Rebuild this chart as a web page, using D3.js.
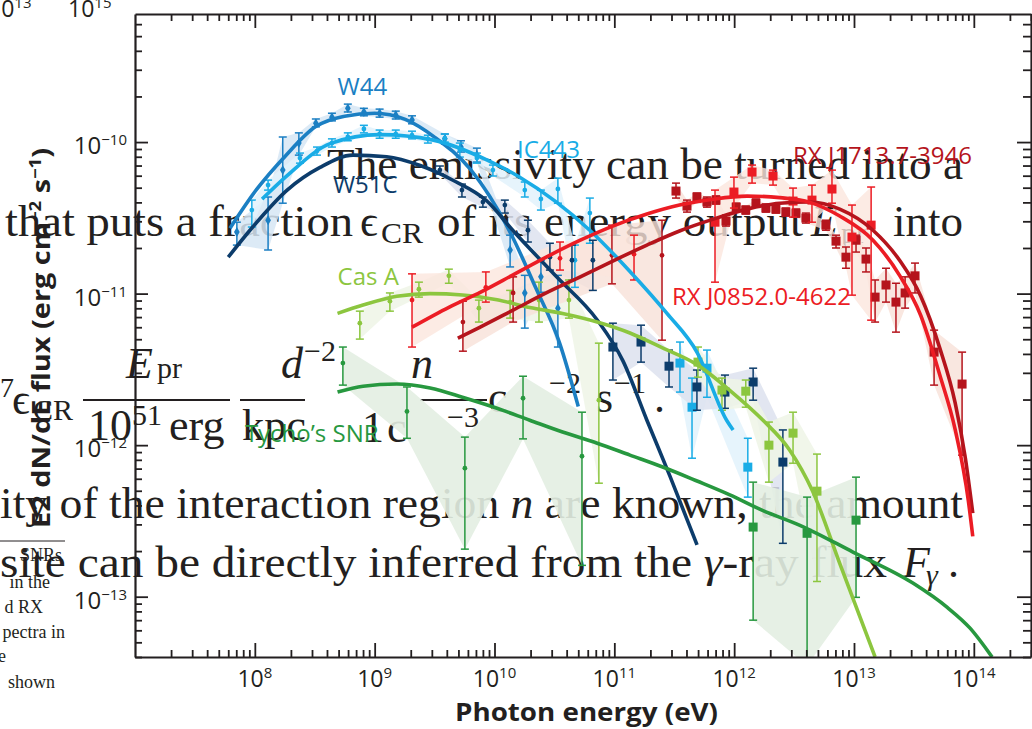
<!DOCTYPE html>
<html><head><meta charset="utf-8">
<script src="https://cdn.jsdelivr.net/npm/d3@7"></script>
<style>body{margin:0;background:#fff}svg{display:block}</style>
</head><body>
<svg id="c" width="1032" height="729"></svg>
<script>
// ---------------- DATA (energy in eV, flux in erg cm^-2 s^-1) ----------------
const energyTickExps = [8, 9, 10, 11, 12, 13, 14];
const fluxTickExps = [-13, -12, -11, -10];

// model curves [E, flux]
const w44Curve = [[6.2e7,2.7e-11],[1.0e8,4.7e-11],[1.8e8,8.1e-11],[3.2e8,1.26e-10],[5.6e8,1.48e-10],[1.0e9,1.55e-10],[1.8e9,1.41e-10],[3.2e9,1.07e-10],[6.3e9,6.6e-11],[1.4e10,2.4e-11],[2.2e10,1.1e-11],[3.5e10,4.7e-12],[5.0e10,1.8e-12]];
const ic443Curve = [[1.15e8,4.2e-11],[1.86e8,6.0e-11],[4.3e8,9.8e-11],[1.1e9,1.12e-10],[3.1e9,1.03e-10],[8.7e9,7.6e-11],[1.6e10,5.9e-11],[6.3e10,2.6e-11],[1.35e11,1.4e-11],[2.75e11,7.4e-12],[4.9e11,4.1e-12],[8.7e11,1.45e-12],[9.8e11,1.26e-12]];
const w51cCurve = [[6.0e7,1.74e-11],[9.6e7,2.75e-11],[1.85e8,4.8e-11],[3.5e8,6.8e-11],[6.6e8,8.2e-11],[1.26e9,8.0e-11],[2.4e9,7.0e-11],[4.5e9,5.6e-11],[8.6e9,4.1e-11],[1.43e10,2.6e-11],[3.3e10,1.29e-11],[7.2e10,6.7e-12],[1.18e11,3.6e-12],[1.87e11,1.46e-12],[2.9e11,6.3e-13],[4.9e11,2.2e-13]];
const casACurve = [[4.9e8,7.4e-12],[8.0e8,8.4e-12],[1.53e9,9.6e-12],[2.9e9,1.0e-11],[5.4e9,9.8e-12],[1.05e10,9.1e-12],[1.97e10,8.1e-12],[3.7e10,7.4e-12],[7.2e10,6.5e-12],[1.35e11,5.5e-12],[2.5e11,4.4e-12],[4.9e11,3.4e-12],[9.2e11,2.3e-12],[1.74e12,1.46e-12],[2.9e12,9.3e-13],[4.5e12,5.0e-13],[7.6e12,1.66e-13],[1.5e13,4.0e-14]];
const tychoCurve = [[4.9e8,2.24e-12],[8.0e8,2.45e-12],[1.53e9,2.53e-12],[2.9e9,2.38e-12],[5.4e9,2.07e-12],[1.05e10,1.75e-12],[1.97e10,1.46e-12],[3.7e10,1.22e-12],[7.2e10,1.03e-12],[1.35e11,8.6e-13],[2.5e11,7.2e-13],[4.9e11,5.8e-13],[9.2e11,4.7e-13],[1.74e12,3.7e-13],[3.54e12,2.96e-13],[9.8e12,1.97e-13],[3.1e13,1.23e-13],[6.0e13,8.5e-14],[9.3e13,6.2e-14],[1.42e14,4.0e-14]];
const rxj0852Curve = [[2.05e9,6.0e-12],[4.2e9,8.15e-12],[7.6e9,1.02e-11],[1.43e10,1.33e-11],[2.7e10,1.74e-11],[5.2e10,2.25e-11],[9.7e10,2.79e-11],[1.87e11,3.35e-11],[3.5e11,3.84e-11],[6.7e11,4.2e-11],[1.28e12,4.4e-11],[2.4e12,4.3e-11],[4.3e12,4.0e-11],[7.6e12,3.25e-11],[1.44e13,2.25e-11],[2.4e13,1.32e-11],[3.6e13,7.2e-12],[5.2e13,2.9e-12],[7.0e13,1.26e-12],[9.0e13,4.3e-13],[9.8e13,2.5e-13]];
const rxj1713Curve = [[4.94e9,5.08e-12],[7.6e9,6.01e-12],[1.43e10,7.78e-12],[2.7e10,1.01e-11],[5.2e10,1.29e-11],[9.7e10,1.64e-11],[1.87e11,2.09e-11],[3.5e11,2.59e-11],[6.7e11,3.1e-11],[1.28e12,3.61e-11],[2.4e12,3.95e-11],[4.3e12,4.02e-11],[7.6e12,3.61e-11],[1.44e13,2.62e-11],[2.4e13,1.66e-11],[3.6e13,9.64e-12],[5.2e13,4.37e-12],[7.0e13,1.89e-12],[8.5e13,8.2e-13],[9.8e13,3.56e-13]];

// measured points [E, flux, fluxLow, fluxHigh]
const w44Points = [[7.08e7,2.55e-11,2.09e-11,2.96e-11],[1.29e8,3.05e-11,1.94e-11,4.34e-11],[1.71e8,6.53e-11,3.95e-11,1.08e-10],[2.33e8,9.85e-11,8.2e-11,1.15e-10],[3.23e8,1.33e-10,1.26e-10,1.42e-10],[4.40e8,1.46e-10,1.38e-10,1.55e-10],[5.97e8,1.67e-10,1.58e-10,1.78e-10],[8.13e8,1.58e-10,1.49e-10,1.67e-10],[1.10e9,1.55e-10,1.46e-10,1.65e-10],[1.50e9,1.51e-10,1.42e-10,1.60e-10],[2.05e9,1.40e-10,1.32e-10,1.49e-10],[3.85e9,1.05e-10,9.7e-11,1.13e-10],[5.25e9,9.27e-11,8.59e-11,1.02e-10],[7.13e9,8.2e-11,7.38e-11,9.12e-11],[1.35e10,1.94e-11,1.50e-11,2.43e-11],[1.79e10,1.01e-11,5.92e-12,1.32e-11],[2.44e10,1.29e-11,1.02e-11,1.66e-11],[3.38e10,8.02e-12,4.44e-12,1.32e-11]];
const ic443Points = [[9.44e7,3.56e-11,2.75e-11,4.14e-11],[1.29e8,5.2e-11,4.82e-11,5.61e-11],[2.38e8,7.84e-11,7.26e-11,8.46e-11],[3.30e8,8.72e-11,8.2e-11,9.27e-11],[4.40e8,9.85e-11,9.27e-11,1.05e-10],[5.97e8,1.08e-10,1.02e-10,1.15e-10],[8.13e8,1.22e-10,1.15e-10,1.29e-10],[1.10e9,1.13e-10,1.06e-10,1.20e-10],[1.50e9,1.13e-10,1.06e-10,1.20e-10],[2.05e9,1.11e-10,1.05e-10,1.18e-10],[2.78e9,1.05e-10,9.85e-11,1.11e-10],[3.85e9,1.06e-10,1.0e-10,1.13e-10],[5.14e9,8.86e-11,7.96e-11,9.85e-11],[7.13e9,7.84e-11,7.26e-11,8.46e-11],[9.7e9,6.53e-11,5.97e-11,7.05e-11],[1.79e10,4.82e-11,4.34e-11,5.45e-11],[2.44e10,4.21e-11,3.56e-11,4.82e-11],[3.38e10,4.9e-11,3.95e-11,5.78e-11],[4.69e10,1.66e-11,1.10e-11,2.09e-11],[6.25e10,3.4e-11,2.15e-11,4.27e-11],[3.53e11,3.48e-12,2.24e-12,4.79e-12],[4.45e11,1.78e-12,8.2e-13,2.77e-12],[5.93e11,3.22e-12,2.07e-12,4.24e-12],[1.30e12,7.16e-13,4.54e-13,1.11e-12]];
const w51cPoints = [[3.50e9,6.53e-11,6.15e-11,6.95e-11],[5.35e9,4.82e-11,4.34e-11,5.28e-11],[8.0e9,4.02e-11,3.72e-11,4.34e-11],[1.22e10,3.84e-11,3.4e-11,4.14e-11],[1.90e10,2.62e-11,2.19e-11,3.05e-11],[2.90e10,1.74e-11,1.43e-11,2.15e-11],[4.43e10,1.66e-11,1.23e-11,2.09e-11],[6.62e10,1.66e-11,1.05e-11,2.25e-11],[9.73e10,4.44e-12,2.69e-12,6.38e-12],[1.67e11,4.79e-12,3.53e-12,6.19e-12],[2.86e11,3.32e-12,2.42e-12,4.24e-12],[4.89e11,2.42e-12,1.70e-12,3.13e-12],[8.38e11,2.24e-12,1.75e-12,2.90e-12],[1.44e12,2.61e-12,1.98e-12,3.22e-12],[2.55e12,7.73e-13,2.25e-13,1.26e-12]];
const casAPoints = [[7.52e8,6.38e-12,5.01e-12,7.66e-12],[1.34e9,8.91e-12,7.66e-12,1.01e-11],[2.34e9,1.07e-11,9.48e-12,1.19e-11],[4.16e9,1.31e-11,1.17e-11,1.45e-11],[7.41e9,8.02e-12,6.49e-12,9.06e-12],[1.35e10,8.79e-12,6.89e-12,1.05e-11],[2.35e10,9.06e-12,6.49e-12,1.19e-11],[4.18e10,9.06e-12,6.89e-12,1.23e-11],[7.43e10,1.98e-12,5.61e-13,4.71e-12],[4.99e11,3.53e-12,2.81e-12,4.44e-12],[7.91e11,2.31e-12,1.70e-12,2.77e-12],[1.25e12,2.27e-12,1.78e-12,2.69e-12],[1.95e12,1.0e-12,5.70e-13,1.42e-12],[3.10e12,1.20e-12,7.6e-13,1.65e-12],[4.91e12,4.97e-13,1.26e-13,8.73e-13]];
const tychoPoints = [[5.43e8,3.48e-12,2.49e-12,4.44e-12],[1.86e9,1.67e-12,1.11e-12,2.42e-12],[5.66e9,7.05e-13,2.06e-13,1.13e-12],[1.73e10,2.04e-12,1.10e-12,2.85e-12],[5.37e10,8.45e-13,1.61e-13,1.65e-12],[1.44e12,2.88e-13,7.0e-14,5.70e-13],[4.06e12,2.62e-13,3.5e-14,4.54e-13],[1.04e13,3.2e-13,9.9e-14,6.15e-13]];
const rxj0852Points = [[2.05e9,9.06e-12,4.44e-12,1.35e-11],[8.47e9,1.10e-11,8.79e-12,1.39e-11],[3.52e10,1.71e-11,1.43e-11,2.19e-11],[1.46e11,1.82e-11,1.23e-11,2.43e-11],[6.92e11,2.96e-11,1.19e-11,4.82e-11],[9.96e11,4.68e-11,3.67e-11,5.87e-11],[1.41e12,6.34e-11,5.36e-11,7.05e-11],[2.11e12,5.97e-11,5.2e-11,6.53e-11],[3.10e12,4.08e-11,3.2e-11,4.97e-11],[4.46e12,4.14e-11,2.96e-11,5.2e-11],[6.55e12,4.9e-11,3.95e-11,6.53e-11],[9.62e12,2.36e-11,9.77e-12,3.84e-11],[1.39e13,2.83e-11,6.68e-12,5.05e-11]];
const rxj1713Points = [[5.45e9,6.49e-12,4.17e-12,8.91e-12],[1.43e10,1.01e-11,6.49e-12,1.29e-11],[9.55e10,1.79e-11,1.16e-11,2.83e-11],[2.50e11,1.79e-11,4.93e-12,3.05e-11],[3.27e11,4.75e-11,4.27e-11,5.36e-11],[4.04e11,3.78e-11,3.45e-11,4.14e-11],[4.89e11,4.34e-11,4.02e-11,4.61e-11],[5.93e11,4.02e-11,3.72e-11,4.34e-11],[7.05e11,4.14e-11,3.9e-11,4.41e-11],[8.55e11,3.01e-11,2.79e-11,3.3e-11],[1.04e12,3.72e-11,3.45e-11,3.95e-11],[1.25e12,3.56e-11,3.35e-11,3.78e-11],[1.52e12,3.95e-11,3.72e-11,4.21e-11],[1.84e12,3.67e-11,3.45e-11,3.9e-11],[2.23e12,3.61e-11,3.4e-11,3.84e-11],[2.70e12,3.45e-11,3.25e-11,3.67e-11],[3.28e12,3.4e-11,3.2e-11,3.61e-11],[3.97e12,3.15e-11,2.92e-11,3.4e-11],[5.83e12,2.83e-11,2.62e-11,3.05e-11],[7.08e12,2.22e-11,2.0e-11,2.43e-11],[8.57e12,1.74e-11,1.47e-11,2.03e-11],[1.04e13,2.25e-11,1.88e-11,2.43e-11],[1.26e13,1.69e-11,1.39e-11,2.0e-11],[1.50e13,9.48e-12,6.49e-12,1.23e-11],[1.85e13,1.14e-11,8.79e-12,1.47e-11],[2.24e13,8.79e-12,5.57e-12,1.17e-11],[2.67e13,1.01e-11,8.02e-12,1.29e-11],[3.23e13,1.31e-11,1.01e-11,1.59e-11],[4.66e13,4.11e-12,2.49e-12,5.74e-12],[7.98e13,2.53e-12,8.59e-13,4.11e-12]];

// series labels and their anchor (E, flux)
const seriesNames = ["W44","IC443","W51C","Cas A","Tycho\u2019s SNR","RX J1713.7-3946","RX J0852.0-4622"];
const labelAnchors = [[4.9e8,2.04e-10],[1.54e10,7.84e-11],[4.48e8,4.61e-11],[4.9e8,1.14e-11],[8.26e7,1.05e-12],[3.10e12,7.16e-11],[3.03e11,8.4e-12]];

// ---------------- LAYOUT ----------------
const svg = d3.select('#c');
const ink = '#231f20';
const L = 135, R = 1031, T = 14, B = 657;
const x = d3.scaleLog().domain([1e7, 3e14]).range([L, R]);
const y = d3.scaleLog().domain([4e-14, 7e-10]).range([B, T]);

const series = [
  {name:seriesNames[0], curve:w44Curve,   pts:w44Points,   color:'#1b7fc3', band:'#d6e6f4', bandOp:0.85, marker:'diamond', sqFrom:Infinity},
  {name:seriesNames[1], curve:ic443Curve, pts:ic443Points, color:'#19ace6', band:'#e2f2fb', bandOp:0.85, marker:'circle', sqFrom:3e11},
  {name:seriesNames[2], curve:w51cCurve,  pts:w51cPoints,  color:'#0c3c6b', band:'#dde2ee', bandOp:0.85, marker:'circle', sqFrom:9e10},
  {name:seriesNames[3], curve:casACurve,  pts:casAPoints,  color:'#8cc63f', band:'#eef5e6', bandOp:0.85, marker:'circle', sqFrom:3e11},
  {name:seriesNames[4], curve:tychoCurve, pts:tychoPoints, color:'#27983f', band:'#e3eee2', bandOp:0.9, marker:'circle', sqFrom:3e11},
  {name:seriesNames[5], curve:rxj1713Curve, pts:rxj1713Points, color:'#b5141c', band:'#f7e1d8', bandOp:0.8, marker:'circle', sqFrom:3e11},
  {name:seriesNames[6], curve:rxj0852Curve, pts:rxj0852Points, color:'#ec1c24', band:'#fbe6dd', bandOp:0.8, marker:'circle', sqFrom:3e11}
];

svg.append('defs').append('clipPath').attr('id','plot')
  .append('rect').attr('x',L).attr('y',T).attr('width',R-L).attr('height',B-T);

// ---------------- background page text (book) ----------------
const book = svg.append('g').attr('fill', ink).style('font-family','"Liberation Serif", "DejaVu Serif", serif');
function bt(str, px, py, size, opts={}){
  const t = book.append('text').attr('x',px).attr('y',py).attr('font-size',size).text(str);
  if (opts.len) t.attr('textLength',opts.len).attr('lengthAdjust','spacingAndGlyphs');
  if (opts.italic) t.attr('font-style','italic');
  if (opts.anchor) t.attr('text-anchor',opts.anchor);
  return t;
}
bt('The emissivity can be turned into a', 327, 179, 44, {len:636});
bt('that puts a fraction', 5, 236, 44, {len:348});
bt('\u03f5', 360, 236, 44);
bt('CR', 381, 243, 30, {len:42});
bt('of its energy output', 437, 236, 44, {len:366});
bt('E', 811, 236, 44, {italic:true});
bt('pr', 841, 243, 30);
bt('into', 893, 236, 44, {len:70});
// formula line
bt('7', 0, 397, 28);
bt('\u03f5', 12, 414, 44);
bt('CR', 33, 420, 30, {len:40});
bt('E', 126, 378, 44, {italic:true});
bt('pr', 157, 378, 30);
bt('10', 88, 440, 44);
bt('51', 132, 425, 30);
bt('erg', 169, 440, 44);
bt('d', 281, 378, 44, {italic:true});
bt('\u22122', 304, 361, 30);
bt('kpc', 242, 440, 44, {len:64});
bt('1', 362, 442, 44);
bt('c', 387, 442, 44);
bt('n', 411, 378, 44, {italic:true});
bt('\u22123', 447, 427, 30);
bt('c', 488, 412, 44);
bt('\u22122', 549, 393, 30);
bt('s', 596, 412, 44);
bt('\u22121', 614, 393, 30);
bt('.', 654, 412, 44);
[[83,230],[240,305],[420,487]].forEach(([a,b])=>book.append('line').attr('x1',a).attr('x2',b).attr('y1',400).attr('y2',400).attr('stroke',ink).attr('stroke-width',2));
// lines 4,5
const l4 = book.append('text').attr('x',0).attr('y',518).attr('font-size',44).attr('textLength',963).attr('lengthAdjust','spacingAndGlyphs');
l4.append('tspan').text('ity of the interaction region ');
l4.append('tspan').attr('font-style','italic').text('n');
l4.append('tspan').text(' are known, the amount');
const l5 = book.append('text').attr('x',0).attr('y',577).attr('font-size',44).attr('textLength',887).attr('lengthAdjust','spacingAndGlyphs');
l5.append('tspan').text('site can be directly inferred from the ');
l5.append('tspan').attr('font-style','italic').text('\u03b3');
l5.append('tspan').text('-ray flux');
bt('F', 903, 577, 44, {italic:true});
bt('\u03b3', 926, 585, 30, {italic:true});
bt('.', 948, 577, 44);
// caption fragment
book.append('line').attr('x1',0).attr('x2',65).attr('y1',541).attr('y2',541).attr('stroke',ink).attr('stroke-width',1);
[['SNRs',62,561],['in the',50,588],['d RX',43,613],['pectra in',65,638],['e',6,662],['shown',55,688]]
  .forEach(([s,xe,yb])=>bt(s, xe, yb, 18, {anchor:'end'}));

// ---------------- chart ----------------
const plot = svg.append('g').attr('clip-path','url(#plot)');
const gBand = plot.append('g'), gErr = plot.append('g'), gCurve = plot.append('g');

const area = d3.area().x(d=>x(d[0])).y0(d=>y(d[2])).y1(d=>y(d[3]));
series.forEach(s=>{
  const pts = s.pts.slice().sort((a,b)=>a[0]-b[0]);
  // one shaded band per instrument (GeV circles / TeV squares), split at wide gaps
  const segs = [[pts[0]]];
  for (let i=1;i<pts.length;i++){
    const instChange = (pts[i][0] >= s.sqFrom) !== (pts[i-1][0] >= s.sqFrom);
    if (instChange || Math.log10(pts[i][0]/pts[i-1][0]) > 1.0) segs.push([]);
    segs[segs.length-1].push(pts[i]);
  }
  segs.filter(seg=>seg.length>1).forEach(seg=>{
    gBand.append('path').datum(seg).attr('d', area)
      .attr('fill', s.band).attr('fill-opacity', s.bandOp);
  });
});
series.forEach(s=>{
  const g = gErr.append('g').attr('stroke', s.color).attr('fill', s.color);
  s.pts.forEach(d=>{
    const px = x(d[0]);
    g.append('line').attr('x1',px).attr('x2',px).attr('y1',y(d[2])).attr('y2',y(d[3])).attr('stroke-width',1.5);
    [d[2],d[3]].forEach(v=>g.append('line').attr('x1',px-4).attr('x2',px+4).attr('y1',y(v)).attr('y2',y(v)).attr('stroke-width',1.5));
    if (d[0] >= s.sqFrom) {
      g.append('rect').attr('x',px-4.5).attr('y',y(d[1])-4.5).attr('width',9).attr('height',9).attr('stroke','none');
    } else if (s.marker==='diamond') {
      g.append('path').attr('d', d3.symbol(d3.symbolDiamond, 28)()).attr('transform',`translate(${px},${y(d[1])})`).attr('stroke','none');
    } else {
      g.append('circle').attr('cx',px).attr('cy',y(d[1])).attr('r',2.4).attr('stroke','none');
    }
  });
});
const line = d3.line().x(d=>x(d[0])).y(d=>y(d[1])).curve(d3.curveMonotoneX);
series.forEach(s=>{
  gCurve.append('path').datum(s.curve).attr('d', line)
    .attr('fill','none').attr('stroke', s.color).attr('stroke-width',3.6).attr('stroke-linecap','butt');
});

// series labels
const lab = svg.append('g').style('font-family','"Open Sans", "Noto Sans", sans-serif').attr('font-size',24);
series.forEach((s,i)=>{
  lab.append('text').attr('x', x(labelAnchors[i][0])).attr('y', y(labelAnchors[i][1]))
    .attr('fill', s.color).text(s.name);
});

// ---------------- axes ----------------
const majorE = energyTickExps.map(e=>Math.pow(10,e));
const minorE = [];
for (let e=7; e<=14; e++) for (let m=2; m<=9; m++){ const v=m*Math.pow(10,e); if (v<=3e14) minorE.push(v); }
const majorF = fluxTickExps.map(e=>Math.pow(10,e));
const minorF = [];
for (let e=-14; e<=-10; e++) for (let m=2; m<=9; m++){ const v=m*Math.pow(10,e); if (v>=4e-14 && v<=7e-10) minorF.push(v); }

function axisG(gen, tx, ty){
  const g = svg.append('g').attr('transform',`translate(${tx},${ty})`).call(gen);
  g.selectAll('text').remove();
  g.select('.domain').attr('stroke',ink).attr('stroke-width',2.2);
  g.selectAll('.tick line').attr('stroke',ink).attr('stroke-width',1.8);
  return g;
}
axisG(d3.axisBottom(x).tickValues(majorE).tickSize(-14).tickSizeOuter(0), 0, B);
axisG(d3.axisBottom(x).tickValues(minorE).tickSize(-7).tickSizeOuter(0), 0, B).select('.domain').remove();
axisG(d3.axisTop(x).tickValues(majorE).tickSize(-14).tickSizeOuter(0), 0, T);
axisG(d3.axisTop(x).tickValues(minorE).tickSize(-7).tickSizeOuter(0), 0, T).select('.domain').remove();
axisG(d3.axisLeft(y).tickValues(majorF).tickSize(-13).tickSizeOuter(0), L, 0);
axisG(d3.axisLeft(y).tickValues(minorF).tickSize(-7).tickSizeOuter(0), L, 0).select('.domain').remove();
axisG(d3.axisRight(y).tickValues(majorF).tickSize(-14).tickSizeOuter(0), R, 0);
axisG(d3.axisRight(y).tickValues(minorF).tickSize(-8).tickSizeOuter(0), R, 0).select('.domain').remove();

const sans = '"Open Sans", "Noto Sans", sans-serif';
const tl = svg.append('g').attr('fill', ink).style('font-family', sans);
energyTickExps.forEach(e=>{
  const t = tl.append('text').attr('x', x(Math.pow(10,e))).attr('y', 687).attr('text-anchor','middle').attr('font-size',23);
  t.append('tspan').text('10');
  t.append('tspan').attr('dy',-9).attr('font-size',15).text(String(e));
});
fluxTickExps.forEach(e=>{
  const t = tl.append('text').attr('x', 127).attr('y', y(Math.pow(10,e))+12).attr('text-anchor','end').attr('font-size',24);
  t.append('tspan').text('10');
  t.append('tspan').attr('dy',-9).attr('font-size',15).text('\u2212'+Math.abs(e));
});
// partial labels of neighbouring panel at top
[[-12,'13'],[68,'15']].forEach(([px,ex])=>{
  const t = tl.append('text').attr('x',px).attr('y',17).attr('font-size',23);
  t.append('tspan').text('10');
  t.append('tspan').attr('dy',-9).attr('font-size',15).text(ex);
});

// axis titles
tl.append('text').attr('x', 455).attr('y', 721)
  .attr('font-size',25).attr('font-weight',700)
  .attr('textLength',263).attr('lengthAdjust','spacingAndGlyphs').text('Photon energy (eV)');
const yt = tl.append('text').attr('transform','translate(50,528) rotate(-90)')
  .attr('font-size',25).attr('font-weight',700).attr('textLength',380).attr('lengthAdjust','spacingAndGlyphs');
yt.append('tspan').text('E2 dN/dE flux (erg cm');
yt.append('tspan').attr('dy',-9).attr('font-size',16).text('\u22122');
yt.append('tspan').attr('dy',9).text(' s');
yt.append('tspan').attr('dy',-9).attr('font-size',16).text('\u22121');
yt.append('tspan').attr('dy',9).text(')');
</script>
</body></html>
